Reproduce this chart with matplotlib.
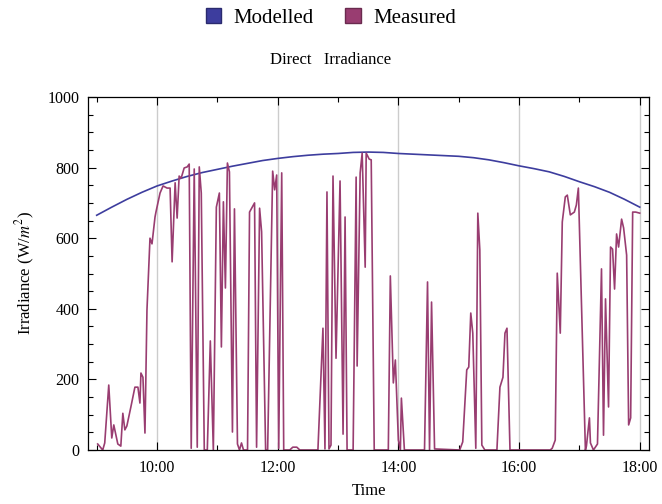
import matplotlib
matplotlib.use('Agg')
import matplotlib.pyplot as plt
from matplotlib.patches import Patch
from matplotlib.ticker import MultipleLocator, FuncFormatter

# modelled direct irradiance, every quarter hour
MODEL_TIMES = ["09:00", "09:15", "09:30", "09:45", "10:00", "10:15", "10:30",
               "10:45", "11:00", "11:15", "11:30", "11:45", "12:00", "12:15",
               "12:30", "12:45", "13:00", "13:15", "13:30", "13:45", "14:00",
               "14:15", "14:30", "14:45", "15:00", "15:15", "15:30", "15:45",
               "16:00", "16:15", "16:30", "16:45", "17:00", "17:15", "17:30",
               "17:45", "18:00"]
MODEL_VALUES = [665, 688, 710, 730, 748, 762, 775, 786, 795, 804, 812, 820,
                826, 831, 835, 838, 840, 843, 844, 843, 840, 838, 836, 834,
                832, 828, 822, 814, 805, 797, 788, 775, 760, 746, 730, 710,
                688]

# measured direct irradiance
MEAS_TIMES = [
    "09:01", "09:06", "09:08", "09:12", "09:15", "09:17", "09:21", "09:24",
    "09:26", "09:28", "09:30", "09:34", "09:38", "09:41", "09:43", "09:44",
    "09:46", "09:48", "09:50", "09:53", "09:55", "09:58", "09:59", "10:03",
    "10:06", "10:10", "10:13", "10:15", "10:18", "10:20", "10:22", "10:24",
    "10:27", "10:30", "10:32", "10:34", "10:37", "10:40", "10:42", "10:44",
    "10:47", "10:50", "10:53", "10:56", "10:59", "11:02", "11:04", "11:06",
    "11:08", "11:10", "11:12", "11:15", "11:17", "11:20", "11:22", "11:24",
    "11:26", "11:30", "11:32", "11:37", "11:39", "11:42", "11:44", "11:48",
    "11:50", "11:55", "11:57", "11:59", "12:01", "12:04", "12:06", "12:12",
    "12:15", "12:19", "12:22", "12:40", "12:45", "12:47", "12:49", "12:51",
    "12:53", "12:55", "12:58", "13:02", "13:05", "13:07", "13:09", "13:15",
    "13:18", "13:19", "13:22", "13:24", "13:27", "13:28", "13:31", "13:33",
    "13:36", "13:50", "13:52", "13:55", "13:57", "14:00", "14:02", "14:03",
    "14:06", "14:26", "14:29", "14:31", "14:33", "14:36", "15:01", "15:04",
    "15:08", "15:10", "15:12", "15:14", "15:17", "15:19", "15:21", "15:23",
    "15:26", "15:38", "15:41", "15:44", "15:46", "15:48", "15:51", "16:31",
    "16:33", "16:36", "16:38", "16:41", "16:43", "16:46", "16:48", "16:51",
    "16:55", "16:57", "16:59", "17:06", "17:07", "17:10", "17:11", "17:14",
    "17:18", "17:22", "17:24", "17:26", "17:29", "17:31", "17:33", "17:35",
    "17:37", "17:39", "17:42", "17:44", "17:47", "17:49", "17:51", "17:53",
    "17:56", "18:00"]
MEAS_VALUES = [
    17, 0, 20, 184, 34, 71, 17, 11,
    104, 57, 68, 122, 178, 178, 133, 218,
    206, 48, 397, 600, 584, 660, 675, 728,
    748, 742, 742, 533, 757, 657, 776, 770,
    799, 802, 810, 5, 796, 8, 802, 728,
    0, 0, 309, 0, 688, 728, 292, 703,
    459, 813, 788, 51, 683, 17, 0, 20,
    0, 0, 674, 700, 8, 685, 618, 0,
    0, 790, 737, 779, 5, 785, 0, 0,
    8, 8, 0, 0, 345, 3, 731, 3,
    14, 776, 260, 762, 45, 660, 0, 0,
    773, 238, 785, 841, 518, 841, 824, 822,
    0, 0, 493, 190, 255, 28, 0, 147,
    0, 0, 476, 0, 419, 3, 0, 23,
    227, 235, 388, 331, 5, 671, 567, 14,
    0, 0, 178, 206, 331, 345, 0, 0,
    5, 28, 501, 331, 646, 717, 722, 666,
    674, 694, 742, 0, 11, 91, 20, 0,
    17, 513, 42, 428, 122, 575, 569, 456,
    612, 575, 654, 629, 552, 71, 91, 674,
    674, 671]

BLUE = "#3d3d9e"
PURPLE = "#993d71"


def to_hours(s):
    h, m = s.split(":")
    return int(h) + int(m) / 60.0


plt.rcParams['font.family'] = ['Liberation Serif', 'DejaVu Serif']
plt.rcParams['mathtext.fontset'] = 'stix'

fig = plt.figure(figsize=(6.62, 5.04), dpi=100)
ax = fig.add_axes([88 / 662, 54 / 504, (649 - 88) / 662, (450 - 97) / 504])

ax.plot([to_hours(t) for t in MODEL_TIMES], MODEL_VALUES, color=BLUE, lw=1.2)
ax.plot([to_hours(t) for t in MEAS_TIMES], MEAS_VALUES, color=PURPLE, lw=1.2)

ax.set_xlim(8.856, 18.154)
ax.set_ylim(0, 1000)

ax.xaxis.set_major_locator(MultipleLocator(2))
ax.xaxis.set_minor_locator(MultipleLocator(1))
ax.xaxis.set_major_formatter(FuncFormatter(lambda v, p: "%d:00" % int(round(v))))
ax.yaxis.set_major_locator(MultipleLocator(200))
ax.yaxis.set_minor_locator(MultipleLocator(50))

ax.tick_params(which='both', direction='in', top=True, right=True,
               labelsize=11.5, width=0.8)
ax.tick_params(which='major', length=6)
ax.tick_params(which='minor', length=3.5)
ax.tick_params(axis='x', pad=7)
ax.tick_params(axis='y', pad=6)

ax.grid(True, axis='x', which='major', color='#cccccc', lw=1)
ax.set_axisbelow(True)
for sp in ax.spines.values():
    sp.set_linewidth(0.9)

ax.set_xlabel("Time", fontsize=12, labelpad=5)
ax.set_ylabel(r"Irradiance (W/$m^2$)", fontsize=12, labelpad=8)

fig.text(0.5, 1 - 60 / 504, "Direct   Irradiance", ha='center', va='center',
         fontsize=12)

handles = [Patch(facecolor=BLUE, edgecolor="#2a2a6e", label="Modelled"),
           Patch(facecolor=PURPLE, edgecolor="#6a2a4e", label="Measured")]
fig.legend(handles=handles, loc='center', bbox_to_anchor=(0.5, 1 - 18 / 504),
           ncol=2, frameon=False, fontsize=15, handlelength=0.75,
           handleheight=0.75, handletextpad=0.6, columnspacing=1.5)

fig.savefig("out.png", dpi=100)
